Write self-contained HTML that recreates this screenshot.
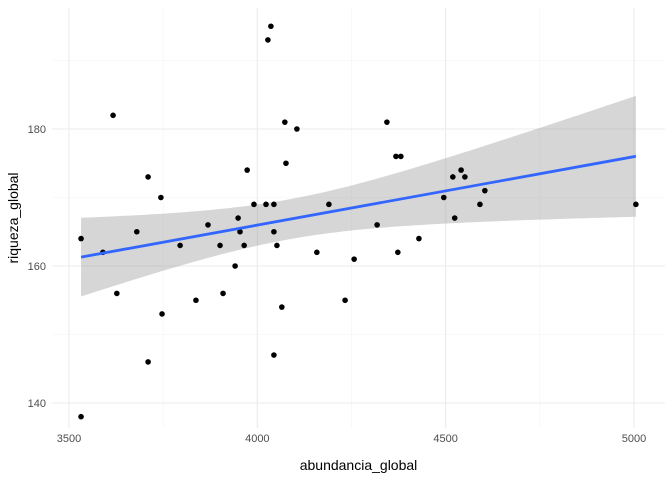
<!DOCTYPE html>
<html><head><meta charset="utf-8"><style>
body{margin:0;background:#fff;}
svg{display:block;font-family:"Liberation Sans",sans-serif;}
</style></head><body>
<svg id="chart" width="672" height="480"></svg>
<script>
const xVals=[3532,3532,3590,3617,3627,3680,3710,3710,3744,3747,3795,3837,3869,3901,3909,3941,3949,3954,3965,3973,3991,4023,4028,4036,4044,4044,4044,4052,4065,4073,4076,4105,4158,4190,4233,4257,4318,4344,4368,4381,4373,4429,4495,4519,4524,4541,4551,4591,4604,5005];
const yVals=[164,138,162,182,156,165,173,146,170,153,163,155,166,163,156,160,167,165,163,174,169,169,193,195,169,165,147,163,154,181,175,180,162,169,155,161,166,181,176,176,162,164,170,173,167,174,173,169,171,169];
const xTicks=[3500,4000,4500,5000];
const yTicks=[140,160,180];
const xMinor=[3750,4250,4750];
const yMinor=[150,170,190];

const NS="http://www.w3.org/2000/svg";
const svg=document.getElementById('chart');
const L=52,R=665,T=8,B=428;
const sx=v=>69+(v-3500)*(634-69)/1500;
const sy=v=>403-(v-140)*(403-129)/40;
function el(t,a,p){const e=document.createElementNS(NS,t);for(const k in a)e.setAttribute(k,a[k]);(p||svg).appendChild(e);return e;}

const grid=el('g',{});


xMinor.forEach(v=>el('line',{x1:sx(v),x2:sx(v),y1:T,y2:B,stroke:'#f3f3f3','stroke-width':0.6},grid));
yMinor.forEach(v=>el('line',{x1:L,x2:R,y1:sy(v),y2:sy(v),stroke:'#f3f3f3','stroke-width':0.6},grid));
xTicks.forEach(v=>el('line',{x1:sx(v),x2:sx(v),y1:T,y2:B,stroke:'#ebebeb','stroke-width':1.1},grid));
yTicks.forEach(v=>el('line',{x1:L,x2:R,y1:sy(v),y2:sy(v),stroke:'#ebebeb','stroke-width':1.1},grid));

// regression
const n=xVals.length;
const mx=xVals.reduce((a,b)=>a+b)/n,my=yVals.reduce((a,b)=>a+b)/n;
let sxx=0,sxy=0;for(let i=0;i<n;i++){sxx+=(xVals[i]-mx)**2;sxy+=(xVals[i]-mx)*(yVals[i]-my);}
const b1=sxy/sxx,b0=my-b1*mx;
let sse=0;for(let i=0;i<n;i++)sse+=(yVals[i]-b0-b1*xVals[i])**2;
const s=Math.sqrt(sse/(n-2)),tq=2.0106;
const x0=Math.min(...xVals),x1=Math.max(...xVals);
const up=[],lo=[];
for(let k=0;k<=80;k++){const x=x0+(x1-x0)*k/80;const f=b0+b1*x;const se=s*Math.sqrt(1/n+(x-mx)**2/sxx);up.push([sx(x),sy(f+tq*se)]);lo.push([sx(x),sy(f-tq*se)]);}
const band=el('path',{d:'M'+up.map(p=>p.join(',')).join('L')+'L'+lo.reverse().map(p=>p.join(',')).join('L')+'Z',fill:'#999',opacity:0.4});



const pts=el('g',{});


for(let i=0;i<n;i++){const c=el('circle',{cx:sx(xVals[i]),cy:sy(yVals[i]),r:2.8,fill:'#000'},pts);

}

const line=el('line',{x1:sx(x0),y1:sy(b0+b1*x0),x2:sx(x1),y2:sy(b0+b1*x1),stroke:'#3366FF','stroke-width':2.8});



xTicks.forEach(v=>{const t=el('text',{x:sx(v),y:442,'font-size':11,fill:'#4d4d4d','text-anchor':'middle'});t.textContent=v;

});
yTicks.forEach(v=>{const t=el('text',{x:46,y:sy(v)+4,'font-size':11,fill:'#4d4d4d','text-anchor':'end'});t.textContent=v;

});
const xt=el('text',{x:(L+R)/2,y:470,'font-size':14,fill:'#000','text-anchor':'middle'});xt.textContent='abundancia_global';


const yt=el('text',{x:0,y:0,'font-size':14,fill:'#000','text-anchor':'middle',transform:`translate(18,${(T+B)/2}) rotate(-90)`});yt.textContent='riqueza_global';


</script>
</body></html>
